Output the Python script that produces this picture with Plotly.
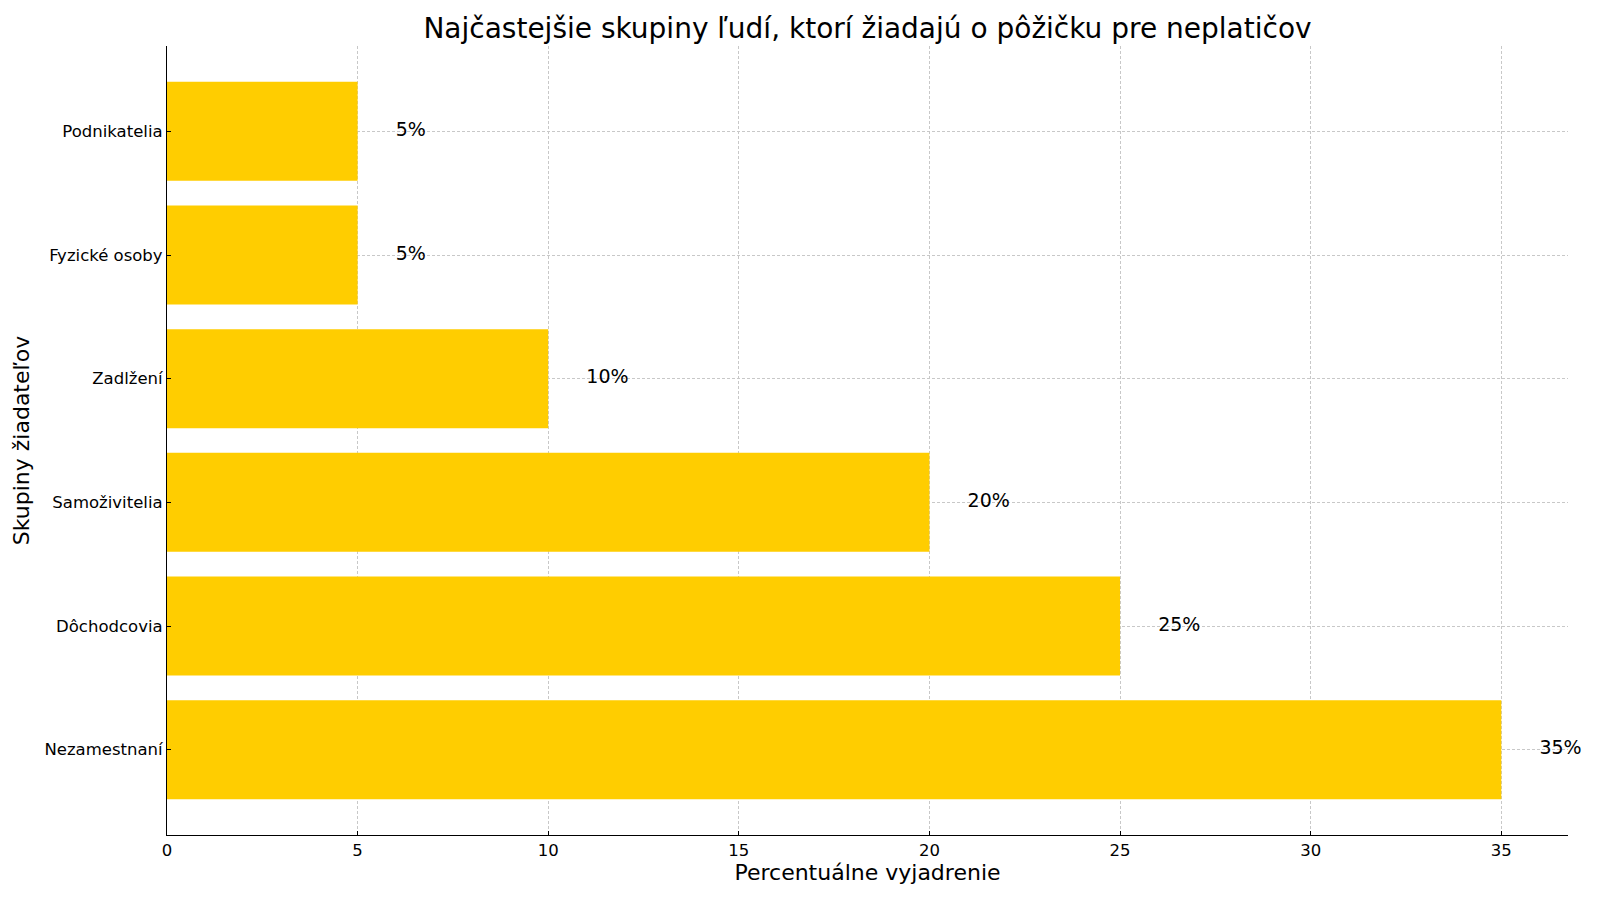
import plotly.graph_objects as go

groups = ['Nezamestnaní', 'Dôchodcovia', 'Samoživitelia', 'Zadlžení', 'Fyzické osoby', 'Podnikatelia']
shares = [35, 25, 20, 10, 5, 5]
share_labels = ['35%', '25%', '20%', '10%', '5%', '5%']

fig = go.Figure()
fig.add_trace(go.Bar(
    x=shares, y=list(range(len(groups))), orientation='h',
    width=0.8, marker=dict(color='#FFCD00', line=dict(width=0)),
    hoverinfo='skip'
))
# percentage labels just to the right of each bar
fig.add_trace(go.Scatter(
    x=[v + 1 for v in shares], y=list(range(len(groups))),
    mode='text', text=share_labels, textposition='middle right',
    textfont=dict(size=19, color='black', family='DejaVu Sans'),
    cliponaxis=False, hoverinfo='skip'
))

grid = dict(showgrid=True, gridcolor='#c8c8c8', griddash='3px,2px', gridwidth=0.8)
fig.update_layout(
    width=1584, height=884,
    paper_bgcolor='white', plot_bgcolor='white',
    showlegend=False,
    font=dict(family='DejaVu Sans', color='black'),
    title=dict(text='Najčastejšie skupiny ľudí, ktorí žiadajú o pôžičku pre neplatičov',
               xref='paper', x=0.5, xanchor='center',
               yref='container', y=1 - 20 / 884, yanchor='middle',
               font=dict(size=28)),
    margin=dict(l=159, r=24, t=38, b=51),
    xaxis=dict(range=[0, 36.75], tickvals=[0, 5, 10, 15, 20, 25, 30, 35],
               ticks='inside', ticklen=4, tickcolor='black',
               showline=True, linecolor='black', linewidth=1.2,
               tickfont=dict(size=16.5), zeroline=False,
               title=dict(text='Percentuálne vyjadrenie', font=dict(size=22), standoff=5),
               **grid),
    yaxis=dict(range=[-0.69, 5.69], tickvals=list(range(len(groups))), ticktext=groups,
               ticks='inside', ticklen=4, tickcolor='black',
               showline=True, linecolor='black', linewidth=1.2,
               tickfont=dict(size=16.5), zeroline=False,
               title=dict(text='Skupiny žiadateľov', font=dict(size=22), standoff=8),
               **grid),
)

fig.write_html("out.html")
